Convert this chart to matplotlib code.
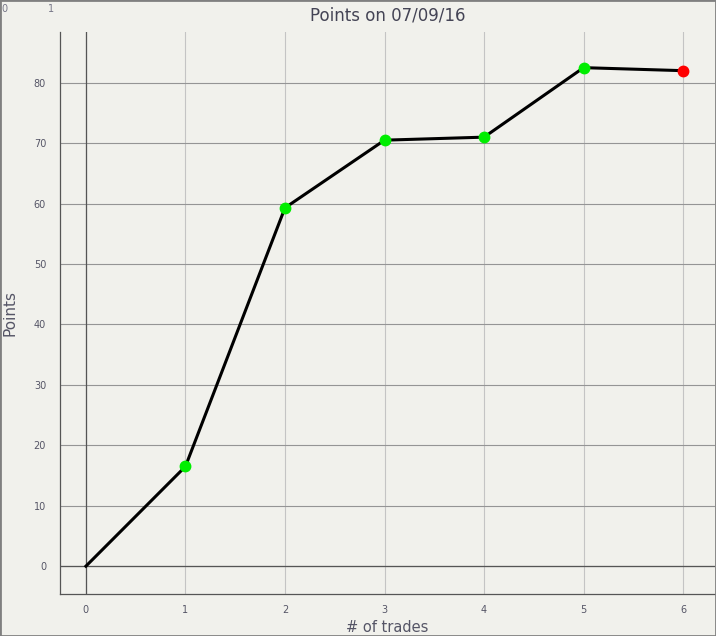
import matplotlib
matplotlib.use("Agg")
import matplotlib.pyplot as plt
from matplotlib.patches import Rectangle

# trades vs cumulative points
trades = [0, 1, 2, 3, 4, 5, 6]
points = [0, 16.5, 59.3, 70.5, 71.0, 82.5, 82.0]
marker_colors = [None, "#00ee00", "#00ee00", "#00ee00", "#00ee00", "#00ee00", "#ff0000"]
x_ticks = [0, 1, 2, 3, 4, 5, 6]
y_ticks = [0, 10, 20, 30, 40, 50, 60, 70, 80]

bg = "#f1f1ec"
label_col = "#555566"

fig = plt.figure(figsize=(7.16, 6.36), dpi=100, facecolor=bg)
ax = fig.add_axes([60/716, 1 - 594/636, 655/716, 562/636], facecolor=bg)

ax.set_xlim(-0.26, 6.32)
ax.set_ylim(-4.6, 88.4)

# vertical grid is lighter than horizontal in the original
ax.grid(True, axis="x", color="#c4c4c4", linewidth=0.8)
ax.grid(True, axis="y", color="#959595", linewidth=0.8)
ax.set_axisbelow(True)
ax.axhline(0, color="#555555", linewidth=0.9, zorder=1)
ax.axvline(0, color="#555555", linewidth=0.9, zorder=1)

ax.plot(trades, points, color="black", linewidth=2.2, zorder=3)
for x, y, c in zip(trades, points, marker_colors):
    if c is not None:
        ax.plot(x, y, "o", color=c, markersize=7.5, zorder=4)

ax.set_xticks(x_ticks)
ax.set_yticks(y_ticks)
ax.tick_params(length=0, labelsize=7, colors=label_col, pad=8)
ax.tick_params(axis="y", pad=10)

for s in ["top", "right"]:
    ax.spines[s].set_visible(False)
for s in ["left", "bottom"]:
    ax.spines[s].set_color("#555555")
    ax.spines[s].set_linewidth(0.9)

ax.set_title("Points on 07/09/16", fontsize=12, color="#444455", pad=8)
ax.set_xlabel("# of trades", fontsize=10.5, color="#555566", va="center")
ax.xaxis.set_label_coords(0.5, -33/562)
ax.set_ylabel("Points", fontsize=11, color="#555566", labelpad=12)

# frame and leftover labels at the top-left
fig.patches.append(Rectangle((0, 0), 1, 1, transform=fig.transFigure, fill=False,
                             edgecolor="#808080", linewidth=2.0))
fig.text(1/716, 1 - 9/636, "0", fontsize=7, color="#777788", va="center", ha="left")
fig.text(51/716, 1 - 9/636, "1", fontsize=7, color="#777788", va="center", ha="center")

fig.savefig("out.png", dpi=100, facecolor=bg)
